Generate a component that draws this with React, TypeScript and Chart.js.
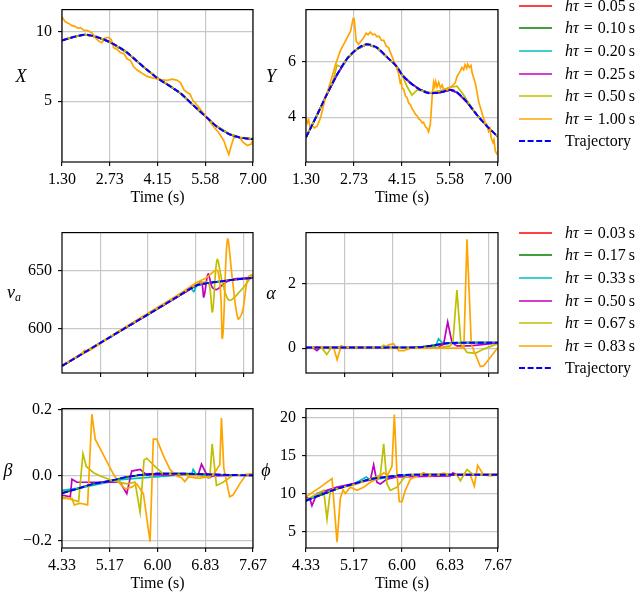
import React, { useEffect, useRef } from 'react';
import { Chart, registerables } from 'chart.js';
Chart.register(...registerables);

const FONT = "'Liberation Serif', 'DejaVu Serif', serif";
const RED = '#ff0000', GREEN = '#008000', CYAN = '#00bfbf', MAGENTA = '#bf00bf', OLIVE = '#bfbf00', ORANGE = '#ffa500', BLUE = '#0000ff';

// ---------- tick labels ----------
const topXTicks = [1.3, 2.725, 4.15, 5.575, 7.0];
const topXLabels = ['1.30', '2.73', '4.15', '5.58', '7.00'];
const midXTicks = [5.1667, 6.0, 6.8333, 7.6667];
const botXTicks = [4.3333, 5.1667, 6.0, 6.8333, 7.6667];
const botXLabels = ['4.33', '5.17', '6.00', '6.83', '7.67'];
const legendTop = ['0.05', '0.10', '0.20', '0.25', '0.50', '1.00'];
const legendMid = ['0.03', '0.17', '0.33', '0.50', '0.67', '0.83'];

// ---------- panel X ----------
const xTrajT = [1.3, 1.645, 1.99, 2.34, 2.73, 3.23, 3.73, 4.15, 4.52, 4.87, 5.22, 5.59, 5.91, 6.31, 6.61, 7.0];
const xTrajV = [9.36, 9.61, 9.77, 9.61, 9.24, 8.51, 7.47, 6.66, 6.09, 5.51, 4.71, 3.9, 3.21, 2.63, 2.4, 2.29];
const xOliveV = [9.4, 9.62, 9.78, 9.63, 9.26, 8.52, 7.48, 6.67, 6.12, 5.53, 4.72, 3.91, 3.22, 2.65, 2.42, 2.32];
const xOrangeT = [1.3, 1.4, 1.5, 1.6, 1.7, 1.77, 1.85, 1.95, 2.07, 2.2, 2.3, 2.4, 2.49, 2.59, 2.69, 2.77, 2.84, 2.94, 3.04, 3.16, 3.24, 3.34, 3.44, 3.54, 3.69, 3.84, 4.04, 4.24, 4.44, 4.59, 4.74, 4.84, 4.94, 5.04, 5.12, 5.21, 5.38, 5.6, 5.78, 5.98, 6.13, 6.23, 6.28, 6.35, 6.43, 6.58, 6.71, 6.83, 6.95, 7.0];
const xOrangeV = [11.04, 10.69, 10.58, 10.42, 10.35, 10.24, 10.28, 10.1, 10.06, 9.89, 9.54, 9.31, 9.2, 9.54, 9.58, 9.42, 8.85, 8.73, 8.5, 8.39, 8.04, 7.93, 7.47, 7.24, 7.01, 6.78, 6.66, 6.55, 6.5, 6.59, 6.5, 6.32, 5.81, 5.63, 5.51, 5.05, 4.59, 3.9, 3.32, 2.75, 2.17, 1.48, 1.2, 1.82, 2.4, 2.45, 2.06, 1.83, 1.94, 2.29];

// ---------- panel Y ----------
const yTrajT = [1.3, 1.627, 1.923, 2.22, 2.517, 2.814, 3.111, 3.408, 3.705, 4.002, 4.15, 4.397, 4.694, 4.991, 5.288, 5.585, 5.783, 6.08, 6.377, 6.674, 7.0];
const yTrajV = [3.28, 4.08, 4.83, 5.52, 6.09, 6.44, 6.61, 6.49, 6.15, 5.8, 5.52, 5.23, 4.98, 4.86, 4.89, 4.98, 4.89, 4.54, 4.08, 3.68, 3.3];
const yOliveT = [1.3, 1.627, 1.923, 2.1, 2.22, 2.35, 2.517, 2.814, 3.111, 3.408, 3.705, 4.002, 4.15, 4.3, 4.447, 4.6, 4.8, 4.991, 5.288, 5.585, 5.783, 5.95, 6.08, 6.377, 6.674, 7.0];
const yOliveV = [3.28, 4.08, 4.83, 5.3, 5.86, 5.8, 6.09, 6.44, 6.61, 6.49, 6.15, 5.8, 5.52, 5.1, 4.79, 4.98, 4.93, 4.88, 4.95, 5.08, 5.11, 4.85, 4.6, 4.08, 3.68, 3.3];
const yOrangeT = [1.3, 1.34, 1.38, 1.42, 1.48, 1.55, 1.63, 1.73, 1.87, 2.02, 2.17, 2.32, 2.47, 2.62, 2.7, 2.73, 2.79, 2.86, 3.01, 3.08, 3.14, 3.21, 3.28, 3.34, 3.41, 3.47, 3.54, 3.61, 3.68, 3.75, 3.9, 4.05, 4.1, 4.12, 4.15, 4.2, 4.25, 4.3, 4.35, 4.4, 4.45, 4.5, 4.55, 4.6, 4.64, 4.7, 4.75, 4.79, 4.85, 4.9, 4.94, 4.99, 5.05, 5.09, 5.12, 5.15, 5.19, 5.24, 5.29, 5.34, 5.39, 5.49, 5.63, 5.73, 5.78, 5.83, 5.88, 5.93, 5.98, 6.02, 6.07, 6.1, 6.15, 6.2, 6.23, 6.28, 6.33, 6.43, 6.57, 6.62, 6.67, 6.72, 6.76, 6.8, 6.85, 6.88, 6.92, 6.96, 7.0];
const yOrangeV = [4.02, 3.8, 3.9, 3.65, 3.7, 3.62, 3.68, 3.97, 4.66, 5.23, 5.86, 6.38, 6.72, 7.07, 7.53, 7.53, 6.72, 6.61, 6.84, 7.0, 6.95, 7.05, 6.95, 6.98, 6.88, 6.9, 6.75, 6.75, 6.55, 6.49, 6.03, 5.57, 5.2, 5.35, 5.05, 5.0, 4.77, 4.7, 4.5, 4.45, 4.3, 4.22, 4.1, 4.05, 3.95, 3.9, 3.8, 3.82, 3.65, 3.6, 3.48, 3.74, 4.8, 5.25, 5.1, 5.28, 5.08, 5.25, 5.05, 5.15, 4.98, 4.98, 5.11, 5.23, 5.45, 5.55, 5.65, 5.78, 5.7, 5.88, 5.75, 5.9, 5.78, 5.85, 5.6, 5.4, 5.2, 4.54, 3.97, 3.8, 3.75, 3.5, 3.6, 3.25, 3.1, 3.2, 2.8, 2.7, 2.76];

// ---------- panel v_a ----------
const vTrajT = [4.5, 5.0, 5.5, 6.0, 6.5, 6.85, 7.0, 7.2, 7.5, 7.833];
const vTrajV = [568.1, 582.9, 597.7, 612.5, 627.3, 637.6, 639.2, 640.5, 642.4, 644.0];
const vCyanT = [4.5, 5.5, 6.5, 6.75, 6.8, 6.85, 7.0, 7.5, 7.833];
const vCyanV = [568.1, 597.7, 627.3, 634.7, 632.0, 637.0, 639.2, 642.4, 644.0];
const vMagentaT = [4.5, 5.5, 6.5, 6.85, 6.935, 6.975, 7.05, 7.12, 7.2, 7.35, 7.5, 7.833];
const vMagentaV = [568.1, 597.7, 627.3, 637.6, 640.0, 627.5, 647.3, 636.0, 634.0, 640.0, 643.0, 644.0];
const vOliveT = [4.5, 5.5, 6.5, 6.85, 7.0, 7.07, 7.126, 7.207, 7.3, 7.416, 7.6, 7.833];
const vOliveV = [568.3, 598.0, 627.8, 638.2, 640.5, 638.0, 614.8, 659.6, 640.0, 624.7, 632.0, 646.7];
const vOrangeT = [4.5, 4.85, 4.9, 4.95, 5.5, 6.0, 6.5, 6.85, 7.0, 7.22, 7.3, 7.387, 7.48, 7.572, 7.65, 7.746, 7.833];
const vOrangeV = [568.5, 579.0, 581.5, 580.5, 598.5, 613.5, 628.5, 640.0, 643.5, 650.0, 592.0, 677.0, 640.0, 608.8, 615.0, 644.5, 647.0];

// ---------- panel alpha ----------
const aTrajT = [4.5, 5.5, 6.3, 6.485, 6.66, 6.83, 7.0, 7.3, 7.833];
const aTrajV = [0.02, 0.02, 0.02, 0.03, 0.07, 0.12, 0.16, 0.17, 0.17];
const aCyanT = [4.5, 6.6, 6.75, 6.8, 6.86, 6.95, 7.1, 7.833];
const aCyanV = [0.02, 0.02, 0.05, 0.29, 0.18, 0.14, 0.17, 0.17];
const aMagentaT = [4.5, 4.63, 4.69, 4.75, 5.62, 6.77, 6.89, 6.96, 7.035, 7.12, 7.35, 7.833];
const aMagentaV = [0.0, 0.0, -0.08, 0.02, 0.02, 0.0, 0.12, 0.81, 0.17, 0.07, 0.07, 0.16];
const aOliveT = [4.5, 4.78, 4.86, 4.94, 5.79, 5.85, 5.91, 6.77, 7.0, 7.05, 7.12, 7.19, 7.295, 7.44, 7.584, 7.833];
const aOliveV = [0.02, 0.0, -0.2, 0.02, 0.02, 0.09, 0.0, 0.0, 0.07, 0.17, 1.8, 0.12, -0.13, -0.16, -0.03, 0.14];
const aOrangeT = [4.5, 4.81, 4.98, 5.04, 5.11, 5.17, 5.27, 5.85, 5.94, 6.02, 6.11, 6.2, 6.31, 6.66, 7.24, 7.295, 7.37, 7.527, 7.584, 7.833];
const aOrangeV = [0.02, 0.04, 0.02, -0.36, 0.07, 0.04, 0.02, 0.02, 0.1, 0.14, -0.08, -0.08, 0.0, 0.0, 0.0, 3.37, 0.12, -0.57, -0.55, 0.02];

// ---------- panel beta ----------
const bTrajT = [4.333, 4.594, 4.884, 5.174, 5.464, 5.696, 6.003, 6.449, 6.855, 7.319, 7.667];
const bTrajV = [-0.054, -0.041, -0.026, -0.017, -0.005, 0.001, 0.005, 0.005, 0.003, 0.001, 0.0];
const bCyanT = [4.333, 4.652, 5.406, 6.507, 6.594, 6.623, 6.681, 7.667];
const bCyanV = [-0.046, -0.038, -0.012, 0.003, 0.001, 0.018, 0.001, 0.0];
const bMagentaT = [4.333, 4.478, 4.507, 4.594, 5.0, 5.348, 5.464, 5.55, 5.696, 5.812, 6.507, 6.71, 6.768, 6.884, 6.97, 7.667];
const bMagentaV = [-0.06, -0.065, -0.012, -0.021, -0.021, -0.021, -0.056, 0.013, 0.018, 0.001, 0.001, 0.001, 0.034, -0.007, -0.002, 0.001];
const bOliveT = [4.333, 4.623, 4.699, 4.757, 4.884, 5.0, 5.232, 5.464, 5.609, 5.696, 5.765, 5.812, 5.986, 6.101, 6.739, 6.913, 6.954, 7.029, 7.145, 7.319, 7.667];
const bOliveV = [-0.065, -0.08, 0.066, 0.027, 0.008, -0.002, -0.017, -0.026, -0.021, -0.112, 0.047, 0.052, 0.022, 0.005, -0.002, -0.007, 0.096, -0.031, -0.021, 0.001, 0.003];
const bOrangeT = [4.333, 4.507, 4.548, 4.652, 4.78, 4.855, 4.913, 5.0, 5.116, 5.232, 5.348, 5.435, 5.55, 5.637, 5.754, 5.87, 5.927, 5.986, 6.101, 6.217, 6.333, 6.42, 6.478, 6.536, 6.739, 6.971, 7.087, 7.116, 7.157, 7.26, 7.319, 7.435, 7.55, 7.667];
const bOrangeV = [-0.07, -0.07, -0.09, -0.085, -0.09, 0.186, 0.11, 0.081, 0.042, 0.003, -0.026, -0.041, -0.036, -0.026, -0.056, -0.202, 0.11, 0.11, 0.061, 0.018, -0.002, -0.007, -0.019, -0.005, -0.009, 0.001, 0.032, 0.174, 0.022, -0.065, -0.06, -0.026, 0.003, 0.005];

// ---------- panel phi ----------
const pTrajT = [4.333, 4.582, 4.872, 5.161, 5.45, 5.74, 6.029, 6.318, 7.667];
const pTrajV = [9.06, 9.78, 10.62, 11.25, 11.89, 12.18, 12.44, 12.48, 12.48];
const pCyanT = [4.333, 4.582, 5.161, 5.381, 5.45, 6.029, 7.667];
const pCyanV = [8.93, 9.99, 11.25, 12.18, 11.76, 12.44, 12.44];
const pMagentaT = [4.333, 4.408, 4.437, 4.524, 4.872, 5.45, 5.508, 5.566, 5.624, 5.74, 5.913, 6.839, 6.885, 6.955, 7.667];
const pMagentaV = [9.56, 9.14, 8.38, 9.99, 10.83, 11.76, 13.79, 11.47, 11.25, 11.89, 12.18, 12.31, 12.73, 12.4, 12.44];
const pOliveT = [4.333, 4.64, 4.698, 4.756, 4.872, 5.219, 5.45, 5.624, 5.682, 5.74, 5.797, 5.913, 6.029, 6.145, 6.955, 7.013, 7.128, 7.244, 7.667];
const pOliveV = [9.14, 10.41, 6.61, 10.41, 10.62, 11.25, 11.89, 12.44, 16.54, 11.25, 10.41, 10.83, 12.02, 12.44, 12.44, 11.68, 13.16, 12.44, 12.44];
const pOrangeT = [4.333, 4.582, 4.785, 4.872, 4.929, 4.976, 5.016, 5.103, 5.219, 5.334, 5.45, 5.566, 5.682, 5.751, 5.826, 5.867, 5.913, 5.954, 6.0, 6.058, 6.145, 6.26, 6.376, 6.463, 6.608, 6.723, 6.868, 7.07, 7.186, 7.256, 7.313, 7.417, 7.533, 7.667];
const pOrangeV = [9.56, 10.83, 11.97, 3.57, 9.35, 10.49, 9.99, 10.83, 10.41, 10.83, 11.47, 11.89, 12.73, 12.44, 13.58, 20.42, 12.52, 8.93, 8.93, 10.41, 11.89, 12.31, 12.73, 12.31, 12.44, 12.69, 12.4, 12.44, 12.44, 10.96, 13.71, 12.44, 12.31, 12.44];

type Series = { t: number[]; v: number[]; color: string; order: number; dash?: boolean; tension?: number; mono?: boolean };

const mk = (t: number[], v: number[], color: string, order: number, extra: Partial<Series> = {}): Series => ({ t, v, color, order, ...extra });
const pts = (t: number[], v: number[]) => t.map((x, i) => ({ x, y: v[i] }));

const boxPlugin = {
  id: 'box',
  afterDatasetsDraw(chart: any) {
    const { ctx, chartArea: a } = chart;
    ctx.save();
    ctx.strokeStyle = '#000';
    ctx.lineWidth = 1.2;
    ctx.strokeRect(a.left, a.top, a.right - a.left, a.bottom - a.top);
    ctx.restore();
  },
};

const PAD_L = 60, PAD_T = 10, PAD_R = 30, PAD_B = 45;

type PanelProps = {
  l: number; t: number; w: number; h: number;
  xMin: number; xMax: number; xTicks: number[]; xLabels?: string[];
  yMin: number; yMax: number; yTicks: number[]; yLabels: string[];
  series: Series[];
};

function Panel(p: PanelProps) {
  const ref = useRef<HTMLCanvasElement>(null);
  useEffect(() => {
    const tickFont = { family: FONT, size: 16 };
    const chart = new Chart(ref.current as HTMLCanvasElement, {
      type: 'line',
      data: {
        datasets: p.series.map((s) => ({
          data: pts(s.t, s.v),
          borderColor: s.color,
          borderWidth: s.dash ? 2 : 1.7,
          borderDash: s.dash ? [6, 2.6] : [],
          pointRadius: 0,
          fill: false,
          tension: s.tension ?? 0,
          cubicInterpolationMode: s.mono ? 'monotone' : 'default',
          order: s.order,
        })),
      } as any,
      options: {
        animation: false,
        responsive: false,
        maintainAspectRatio: false,
        parsing: false,
        layout: { padding: { left: 0, top: PAD_T, right: PAD_R, bottom: 0 } },
        plugins: { legend: { display: false }, tooltip: { enabled: false } },
        scales: {
          x: {
            type: 'linear',
            min: p.xMin,
            max: p.xMax,
            afterBuildTicks: (s: any) => { s.ticks = p.xTicks.map((v) => ({ value: v })); },
            afterFit: (s: any) => { s.height = PAD_B; },
            ticks: {
              display: !!p.xLabels,
              autoSkip: false,
              maxRotation: 0,
              minRotation: 0,
              padding: 4,
              color: '#000',
              font: tickFont,
              callback: (_v: any, i: number) => (p.xLabels ? p.xLabels[i] : ''),
            },
            grid: { color: '#c8c8c8', lineWidth: 1.2, tickColor: '#000', tickLength: 4, tickWidth: 1.1 } as any,
            border: { display: false },
            title: {
              display: !!p.xLabels,
              text: 'Time (s)',
              color: '#000',
              font: { family: FONT, size: 16 },
              padding: { top: 0, bottom: 0 },
            },
          },
          y: {
            type: 'linear',
            min: p.yMin,
            max: p.yMax,
            afterBuildTicks: (s: any) => { s.ticks = p.yTicks.map((v) => ({ value: v })); },
            afterFit: (s: any) => { s.width = PAD_L; },
            ticks: {
              padding: 6,
              color: '#000',
              font: tickFont,
              callback: (_v: any, i: number) => p.yLabels[i],
            },
            grid: { color: '#c8c8c8', lineWidth: 1.2, tickColor: '#000', tickLength: 4, tickWidth: 1.1 } as any,
            border: { display: false },
          },
        },
      } as any,
      plugins: [boxPlugin],
    });
    return () => chart.destroy();
  }, []);
  const cw = p.w + PAD_L + PAD_R;
  const ch = p.h + PAD_T + PAD_B;
  return (
    <canvas
      ref={ref}
      width={cw}
      height={ch}
      style={{ position: 'absolute', left: p.l - PAD_L, top: p.t - PAD_T, width: cw, height: ch }}
    />
  );
}

function std(
  traj: [number[], number[]],
  red: [number[], number[]],
  green: [number[], number[]],
  cyan: [number[], number[]],
  magenta: [number[], number[]],
  olive: [number[], number[]],
  orange: [number[], number[]],
  tension = 0
): Series[] {
  return [
    mk(red[0], red[1], RED, 6),
    mk(green[0], green[1], GREEN, 5),
    mk(cyan[0], cyan[1], CYAN, 4, { tension }),
    mk(magenta[0], magenta[1], MAGENTA, 3, { tension }),
    mk(olive[0], olive[1], OLIVE, 2, { tension }),
    mk(orange[0], orange[1], ORANGE, 1, { tension }),
    mk(traj[0], traj[1], BLUE, 0, { dash: true, mono: true }),
  ];
}

const legendColors = [RED, GREEN, CYAN, MAGENTA, OLIVE, ORANGE];

function Legend({ top, labels }: { top: number; labels: string[] }) {
  const rows = [
    ...labels.map((l, i) => ({ color: legendColors[i], label: l, dash: false })),
    { color: BLUE, label: '', dash: true },
  ];
  return (
    <>
      {rows.map((r, i) => {
        const cy = top + i * 22.6;
        return (
          <div
            key={i}
            style={{ position: 'absolute', left: 519, top: cy - 10, height: 20, display: 'flex', alignItems: 'center', whiteSpace: 'nowrap', font: `16px ${FONT}`, color: '#000' }}
          >
            <svg width={33} height={4} style={{ display: 'block' }}>
              <line x1={0} y1={2} x2={33} y2={2} stroke={r.color} strokeWidth={r.dash ? 2 : 1.7} strokeDasharray={r.dash ? '6 2.6' : undefined} />
            </svg>
            <span style={{ marginLeft: 13 }}>
              {r.dash ? (
                'Trajectory'
              ) : (
                <>
                  <i>hτ</i>
                  <span style={{ margin: '0 5px' }}>=</span>
                  {r.label}
                  <span style={{ marginLeft: 3 }}>s</span>
                </>
              )}
            </span>
          </div>
        );
      })}
    </>
  );
}

const labelStyle = (x: number, y: number): React.CSSProperties => ({
  position: 'absolute', left: x, top: y, transform: 'translate(-50%, -50%)', font: `italic 18px ${FONT}`, color: '#000', whiteSpace: 'nowrap',
});

export default function App() {
  const xs = std([xTrajT, xTrajV], [xTrajT, xTrajV], [xTrajT, xTrajV], [xTrajT, xTrajV], [xTrajT, xTrajV], [xTrajT, xOliveV], [xOrangeT, xOrangeV]);
  const ys = std([yTrajT, yTrajV], [yTrajT, yTrajV], [yTrajT, yTrajV], [yTrajT, yTrajV], [yTrajT, yTrajV], [yOliveT, yOliveV], [yOrangeT, yOrangeV]);
  const vs = std([vTrajT, vTrajV], [vTrajT, vTrajV], [vTrajT, vTrajV], [vCyanT, vCyanV], [vMagentaT, vMagentaV], [vOliveT, vOliveV], [vOrangeT, vOrangeV], 0.35);
  const as = std([aTrajT, aTrajV], [aTrajT, aTrajV], [aTrajT, aTrajV], [aCyanT, aCyanV], [aMagentaT, aMagentaV], [aOliveT, aOliveV], [aOrangeT, aOrangeV]);
  const bs = std([bTrajT, bTrajV], [bTrajT, bTrajV], [bTrajT, bTrajV], [bCyanT, bCyanV], [bMagentaT, bMagentaV], [bOliveT, bOliveV], [bOrangeT, bOrangeV]);
  const ps = std([pTrajT, pTrajV], [pTrajT, pTrajV], [pTrajT, pTrajV], [pCyanT, pCyanV], [pMagentaT, pMagentaV], [pOliveT, pOliveV], [pOrangeT, pOrangeV]);

  return (
    <div style={{ position: 'absolute', left: 0, top: 0, width: 640, height: 593, overflow: 'hidden', background: '#fff' }}>
      <Panel l={62} t={4} w={191} h={158} xMin={1.3} xMax={7.0} xTicks={topXTicks} xLabels={topXLabels}
        yMin={0.65} yMax={11.57} yTicks={[5, 10]} yLabels={['5', '10']} series={xs} />
      <Panel l={306} t={4} w={192} h={158} xMin={1.3} xMax={7.0} xTicks={topXTicks} xLabels={topXLabels}
        yMin={2.4} yMax={7.85} yTicks={[4, 6]} yLabels={['4', '6']} series={ys} />
      <Panel l={62} t={227} w={191} h={146} xMin={4.5} xMax={7.8333} xTicks={midXTicks}
        yMin={562} yMax={683} yTicks={[600, 650]} yLabels={['600', '650']} series={vs} />
      <Panel l={306} t={227} w={192} h={146} xMin={4.5} xMax={7.8333} xTicks={midXTicks}
        yMin={-0.77} yMax={3.58} yTicks={[0, 2]} yLabels={['0', '2']} series={as} />
      <Panel l={62} t={403} w={191} h={145} xMin={4.3333} xMax={7.6667} xTicks={botXTicks} xLabels={botXLabels}
        yMin={-0.221} yMax={0.203} yTicks={[-0.2, 0, 0.2]} yLabels={['\u22120.2', '0.0', '0.2']} series={bs} />
      <Panel l={306} t={403} w={192} h={145} xMin={4.3333} xMax={7.6667} xTicks={botXTicks} xLabels={botXLabels}
        yMin={2.8} yMax={21.2} yTicks={[5, 10, 15, 20]} yLabels={['5', '10', '15', '20']} series={ps} />

      <Legend top={5.7} labels={legendTop} />
      <Legend top={232.7} labels={legendMid} />

      <div style={labelStyle(21, 76)}>X</div>
      <div style={labelStyle(271, 76)}>Y</div>
      <div style={labelStyle(14, 293)}>
        v<sub style={{ fontSize: 12, verticalAlign: '-3px' }}>a</sub>
      </div>
      <div style={labelStyle(271, 293)}>α</div>
      <div style={labelStyle(8, 470)}>β</div>
      <div style={labelStyle(266, 470)}>ϕ</div>
    </div>
  );
}
